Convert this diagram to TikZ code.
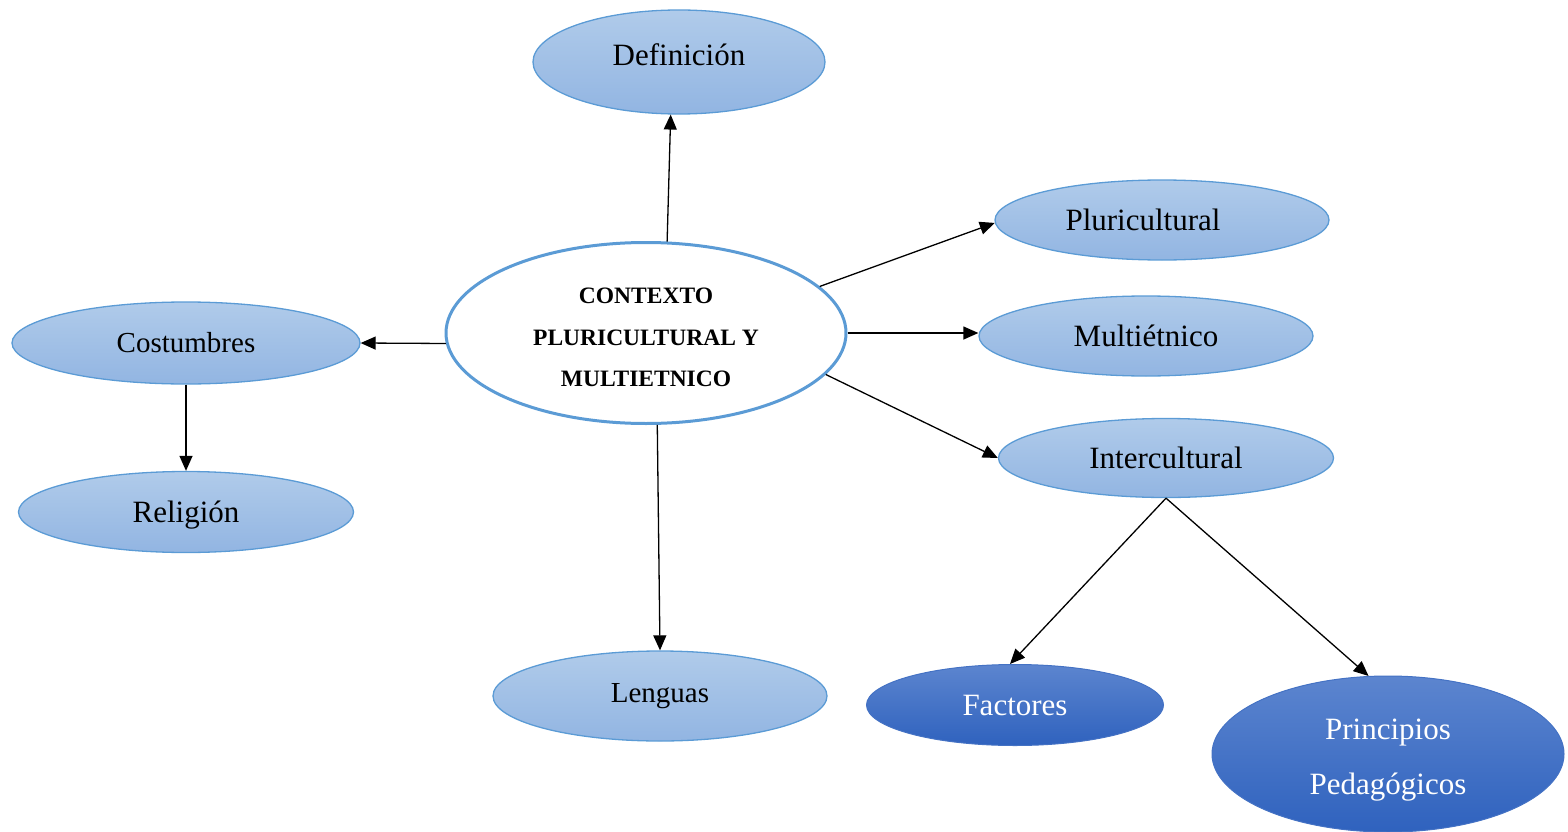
\documentclass[tikz,border=0pt]{standalone}
\usepackage{fontspec}
\setmainfont{Liberation Serif}
\usetikzlibrary{shapes.geometric,arrows.meta}
\definecolor{lineblue}{HTML}{5B9BD5}
\definecolor{lighttop}{HTML}{B0CBEA}
\definecolor{lightbot}{HTML}{92B5E2}
\definecolor{darktop}{HTML}{5C85CF}
\definecolor{darkbot}{HTML}{2F62BE}
\definecolor{darkline}{HTML}{4472C4}
\newcommand{\nudge}[2]{\raisebox{#1}[\height][\depth]{#2}}
\tikzset{
  bubble/.style 2 args={ellipse,inner sep=0pt,draw=lineblue,line width=1.3pt,
    top color=lighttop,bottom color=lightbot,minimum width=#1pt,minimum height=#2pt,
    font=\fontsize{31}{37}\selectfont},
  darkbubble/.style 2 args={ellipse,inner sep=0pt,draw=darkline,line width=1pt,
    top color=darktop,bottom color=darkbot,minimum width=#1pt,minimum height=#2pt,
    text=white,font=\fontsize{31}{55}\selectfont},
  arr/.style={line width=1.3pt,-{Triangle[length=15pt,width=13pt]}}
}
\begin{document}
\begin{tikzpicture}[x=1pt,y=-1pt]
    \useasboundingbox (0,0) rectangle (1568,832);

    \node [ellipse,draw=lineblue,line width=3pt,fill=white,minimum width=400pt,minimum height=181pt,
      inner sep=0pt,font=\fontsize{23.5}{41.5}\selectfont\bfseries]
      (ctx) at (646,333) {\nudge{-4pt}{\begin{tabular}{@{}c@{}}CONTEXTO\\PLURICULTURAL Y\\MULTIETNICO\end{tabular}}};

    \node [bubble={292}{104}] (def) at (679,62) {\nudge{7pt}{Definición}};
    \node [bubble={334}{80}] (plu) at (1162,220) {\hspace*{-38pt}Pluricultural};
    \node [bubble={334}{80}] (mul) at (1146,336) {Multiétnico};
    \node [bubble={335}{79}] (int) at (1166,458) {Intercultural};
    \node [bubble={348}{82}, font=\fontsize{29}{35}\selectfont] (cos) at (186,343) {Costumbres};
    \node [bubble={335}{81}] (rel) at (186,512) {\nudge{-3pt}{Religión}};
    \node [bubble={334}{90}, font=\fontsize{29}{35}\selectfont] (len) at (660,696) {Lenguas};
    \node [darkbubble={297}{81}] (fac) at (1015,705) {Factores};
    \node [darkbubble={352}{156}] (pri) at (1388,754) {\nudge{-2pt}{\begin{tabular}{@{}c@{}}Principios\\Pedagógicos\end{tabular}}};

    \draw [arr] (ctx.77) -- (def.261);
    \draw [arr] (ctx.15) -- (plu.181);
    \draw [arr] (ctx.east) -- (ctx.east -| mul.west);
    \draw [arr] (ctx.-13) -- (int.west);
    \draw [arr] (ctx.183) -- (cos.east);
    \draw [arr] (ctx.277) -- (len.north);
    \draw [arr] (cos.south) -- (rel.north);
    \draw [arr] (int.south) -- (fac.97);
    \draw [arr] (int.south) -- (pri.104);
\end{tikzpicture}
\end{document}
